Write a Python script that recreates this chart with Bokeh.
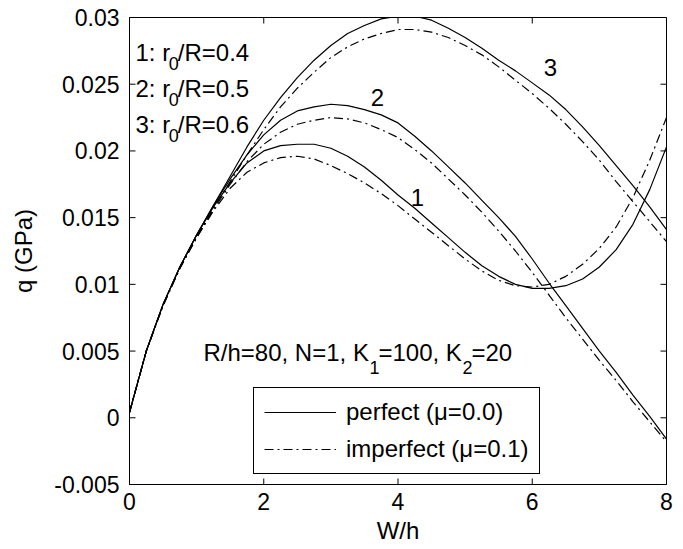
from bokeh.plotting import figure
from bokeh.models import (Range1d, FixedTicker, Legend, LegendItem,
                          Label, ColumnDataSource)
from bokeh.embed import file_html
from bokeh.resources import INLINE

# ---------------- data ----------------
W_h = [0.0, 0.25, 0.5, 0.75, 1.0, 1.25, 1.5, 1.75, 2.0, 2.25, 2.5, 2.75, 3.0,
       3.25, 3.5, 3.75, 4.0, 4.25, 4.5, 4.75, 5.0, 5.25, 5.5, 5.75, 6.0,
       6.25, 6.5, 6.75, 7.0, 7.25, 7.5, 7.75, 8.0]

# r0/R = 0.4  (curve 1)
q1_perfect = [0.0004, 0.0050, 0.0085, 0.0113, 0.0137, 0.0158, 0.0176, 0.0191,
              0.0200, 0.0204, 0.0205, 0.0205, 0.0202, 0.0196, 0.0188, 0.0178,
              0.0167, 0.0157, 0.0146, 0.0135, 0.0124, 0.0114, 0.0106, 0.0100,
              0.0097, 0.0097, 0.0099, 0.0104, 0.0113, 0.0126, 0.0145, 0.0171,
              0.0203]
q1_imperfect = [0.0004, 0.0050, 0.0084, 0.0112, 0.0135, 0.0155, 0.0172, 0.0184,
                0.0191, 0.0195, 0.0196, 0.0194, 0.0189, 0.0183, 0.0176, 0.0168,
                0.0159, 0.0149, 0.0139, 0.0129, 0.0119, 0.0110, 0.0103, 0.0099,
                0.0098, 0.0100, 0.0106, 0.0115, 0.0127, 0.0143, 0.0165, 0.0193,
                0.0225]
# r0/R = 0.5  (curve 2)
q2_perfect = [0.0004, 0.0050, 0.0085, 0.0113, 0.0137, 0.0159, 0.0179, 0.0197,
              0.0212, 0.0223, 0.0230, 0.0233, 0.0235, 0.0234, 0.0231, 0.0227,
              0.0221, 0.0211, 0.0200, 0.0188, 0.0176, 0.0163, 0.0150, 0.0136,
              0.0119, 0.0101, 0.0084, 0.0067, 0.0050, 0.0034, 0.0017, 0.0001,
              -0.0016]
q2_imperfect = [0.0004, 0.0050, 0.0084, 0.0112, 0.0135, 0.0156, 0.0175, 0.0192,
                0.0205, 0.0214, 0.0220, 0.0223, 0.0225, 0.0224, 0.0221, 0.0216,
                0.0210, 0.0201, 0.0191, 0.0179, 0.0167, 0.0154, 0.0140, 0.0125,
                0.0109, 0.0092, 0.0075, 0.0059, 0.0043, 0.0028, 0.0012, -0.0003,
                -0.0018]
# r0/R = 0.6  (curve 3)
q3_perfect = [0.0004, 0.0050, 0.0085, 0.0113, 0.0137, 0.0159, 0.0181, 0.0203,
              0.0223, 0.0240, 0.0255, 0.0268, 0.0279, 0.0288, 0.0294, 0.0299,
              0.0301, 0.0301, 0.0298, 0.0292, 0.0285, 0.0277, 0.0268, 0.0260,
              0.0251, 0.0242, 0.0231, 0.0218, 0.0204, 0.0189, 0.0174, 0.0158,
              0.0141]
q3_imperfect = [0.0004, 0.0050, 0.0085, 0.0112, 0.0136, 0.0157, 0.0177, 0.0197,
                0.0216, 0.0233, 0.0247, 0.0259, 0.0270, 0.0278, 0.0284, 0.0288,
                0.0291, 0.0291, 0.0289, 0.0285, 0.0279, 0.0272, 0.0263, 0.0253,
                0.0243, 0.0232, 0.0220, 0.0207, 0.0193, 0.0177, 0.0162, 0.0147,
                0.0132]

x_ticks = [0, 2, 4, 6, 8]
x_tick_labels = ["0", "2", "4", "6", "8"]
y_ticks = [-0.005, 0.0, 0.005, 0.01, 0.015, 0.02, 0.025, 0.03]
y_tick_labels = ["-0.005", "0", "0.005", "0.01", "0.015", "0.02", "0.025", "0.03"]

legend_labels = ["perfect (\u03bc=0.0)", "imperfect (\u03bc=0.1)"]
case_prefix = ["1: r", "2: r", "3: r"]
case_suffix = ["/R=0.4", "/R=0.5", "/R=0.6"]

# ---------------- figure ----------------
FONT = "Liberation Sans"
FS = "23px"
FS_TXT = "24px"
FS_SUB = "18px"
X0, X1, Y0, Y1 = 0, 8, -0.005, 0.03
FRAME_W, FRAME_H = 537, 467

p = figure(width=683, height=549,
           x_range=Range1d(X0, X1), y_range=Range1d(Y0, Y1),
           output_backend="svg", toolbar_location=None,
           min_border_left=129, min_border_right=17,
           min_border_top=17, min_border_bottom=65)
p.grid.visible = False
p.outline_line_color = "black"
p.outline_line_width = 1
p.background_fill_color = "white"
p.border_fill_color = "white"

src = ColumnDataSource(dict(x=W_h, q1p=q1_perfect, q1i=q1_imperfect,
                            q2p=q2_perfect, q2i=q2_imperfect,
                            q3p=q3_perfect, q3i=q3_imperfect))
DASH = "9 4 2 4"
LW = 1.2
r1p = p.line("x", "q1p", source=src, line_color="black", line_width=LW)
r1i = p.line("x", "q1i", source=src, line_color="black", line_width=LW, line_dash=DASH)
p.line("x", "q2p", source=src, line_color="black", line_width=LW)
p.line("x", "q2i", source=src, line_color="black", line_width=LW, line_dash=DASH)
p.line("x", "q3p", source=src, line_color="black", line_width=LW)
p.line("x", "q3i", source=src, line_color="black", line_width=LW, line_dash=DASH)

# inward tick marks on all four sides (box style), 6 px long
TICK_PX = 6
dx = TICK_PX * (X1 - X0) / FRAME_W
dy = TICK_PX * (Y1 - Y0) / FRAME_H
p.segment(x0=x_ticks, x1=x_ticks, y0=[Y0] * len(x_ticks), y1=[Y0 + dy] * len(x_ticks),
          line_color="black", line_width=1)
p.segment(x0=x_ticks, x1=x_ticks, y0=[Y1] * len(x_ticks), y1=[Y1 - dy] * len(x_ticks),
          line_color="black", line_width=1)
p.segment(x0=[X0] * len(y_ticks), x1=[X0 + dx] * len(y_ticks), y0=y_ticks, y1=y_ticks,
          line_color="black", line_width=1)
p.segment(x0=[X1] * len(y_ticks), x1=[X1 - dx] * len(y_ticks), y0=y_ticks, y1=y_ticks,
          line_color="black", line_width=1)


def style_axis(ax):
    ax.major_tick_in = 0
    ax.major_tick_out = 0
    ax.minor_tick_line_color = None
    ax.axis_line_color = "black"
    ax.major_label_text_font = FONT
    ax.major_label_text_font_size = FS
    ax.major_label_text_color = "black"
    ax.axis_label_text_font = FONT
    ax.axis_label_text_font_size = FS_TXT
    ax.axis_label_text_font_style = "normal"
    ax.axis_label_text_color = "black"


xax = p.xaxis[0]
yax = p.yaxis[0]
xax.ticker = FixedTicker(ticks=x_ticks)
yax.ticker = FixedTicker(ticks=y_ticks)
xax.major_label_overrides = {t: l for t, l in zip(x_ticks, x_tick_labels)}
yax.major_label_overrides = {t: l for t, l in zip(y_ticks, y_tick_labels)}
style_axis(xax)
style_axis(yax)
xax.axis_label = "W/h"
yax.axis_label = "q (GPa)"
xax.major_label_standoff = 8
xax.axis_label_standoff = 4
yax.major_label_standoff = 10
yax.axis_label_standoff = 14

# ---------------- legend ----------------
legend = Legend(items=[LegendItem(label=legend_labels[0], renderers=[r1p]),
                       LegendItem(label=legend_labels[1], renderers=[r1i])],
                location=(124, 10))
legend.label_text_font = FONT
legend.label_text_font_size = FS_TXT
legend.label_text_color = "black"
legend.glyph_width = 72
legend.glyph_height = 22
legend.label_height = 22
legend.label_standoff = 10
legend.spacing = 9
legend.padding = 10
legend.margin = 0
legend.border_line_color = "black"
legend.border_line_width = 1
legend.border_line_alpha = 1
legend.background_fill_alpha = 1
p.add_layout(legend, "center")

# ---------------- annotations ----------------
def lab(x, y, text, size=FS_TXT, align="left", baseline="alphabetic"):
    p.add_layout(Label(x=x, y=y, text=text, text_font=FONT, text_font_size=size,
                       text_color="black", text_align=align,
                       text_baseline=baseline))


main_y = [0.02738, 0.02468, 0.02198]
sub_y = [0.02655, 0.02385, 0.02116]
for i in range(3):
    lab(0.089, main_y[i], case_prefix[i])
    lab(0.585, sub_y[i], "0", size=FS_SUB)
    lab(0.720, main_y[i], case_suffix[i])

# parameters line
lab(1.102, 0.00489, "R/h=80, N=1, K")
lab(3.575, 0.00377, "1", size=FS_SUB)
lab(3.709, 0.00489, "=100, K")
lab(4.961, 0.00377, "2", size=FS_SUB)
lab(5.095, 0.00489, "=20")

# curve numbers
lab(4.29, 0.01651, "1", align="center", baseline="middle")
lab(3.695, 0.0240, "2", align="center", baseline="middle")
lab(6.272, 0.02625, "3", align="center", baseline="middle")

open("out.html", "w").write(file_html(p, INLINE))
